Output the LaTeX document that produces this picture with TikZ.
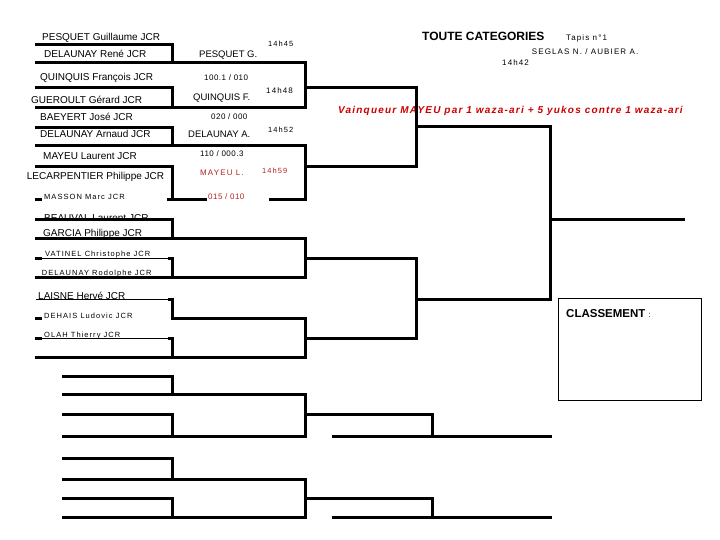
\documentclass[tikz,border=0pt]{standalone}
\usepackage{fontspec}
\setmainfont{Liberation Sans}
\newfontfamily\trackFont[LetterSpace=14]{Liberation Sans}
\newfontfamily\scoreFont[LetterSpace=6]{Liberation Sans}
\newfontfamily\resultFont[LetterSpace=12]{Liberation Sans}

\begin{document}
\begin{tikzpicture}[x=1pt, y=-1pt,
    bar/.style={line width=3pt, line cap=rect},
    thinbar/.style={line width=1pt},
    entrant/.style={anchor=base west, inner sep=0pt, font=\fontsize{10}{12}\selectfont},
    smallentrant/.style={anchor=base west, inner sep=0pt, font=\trackFont\fontsize{7.5}{9}\selectfont},
    winner/.style={anchor=base west, inner sep=0pt, font=\fontsize{9.5}{11}\selectfont},
    score/.style={anchor=base west, inner sep=0pt, font=\scoreFont\fontsize{8}{10}\selectfont},
    clock/.style={anchor=base west, inner sep=0pt, font=\trackFont\fontsize{7.5}{9}\selectfont}]
    \def\xStart{36}
    \def\xLower{63}
    \def\xRoundA{172}
    \def\xRoundB{305}
    \def\xRoundC{416}
    \def\xRoundD{550}
    \def\xFinal{683}
    \def\xRepA{432}
    \def\xRepB{333}

    \definecolor{winColour}{HTML}{B22222}
    \definecolor{resultColour}{HTML}{CC0000}

    \useasboundingbox (0,0) rectangle (720,540);

    % Header
    \node[anchor=base west, inner sep=0pt, font=\bfseries\fontsize{12}{14}\selectfont] (title) at (422,40.7) {TOUTE CATEGORIES};
    \node[clock, font=\trackFont\fontsize{8}{10}\selectfont] (tapis) at (566,40.7) {Tapis n°1};
    \node[clock, font=\trackFont\fontsize{8}{10}\selectfont] (referees) at (531.7,55) {SEGLAS N. / AUBIER A.};
    \node[clock, font=\trackFont\fontsize{8}{10}\selectfont] (startTime) at (502,65.7) {14h42};

    % Entrants
    \foreach \px/\py/\txt [count=\i] in {42/41/PESQUET Guillaume JCR, 44/58/DELAUNAY René JCR,
        40/81/QUINQUIS François JCR, 31/103.3/GUEROULT Gérard JCR, 40/120.7/BAEYERT José JCR,
        40/137.3/DELAUNAY Arnaud JCR, 43/160/MAYEU Laurent JCR, 26.7/180/LECARPENTIER Philippe JCR,
        44/222/BEAUVAL Laurent JCR, 43/236.7/GARCIA Philippe JCR, 38/299.5/LAISNE Hervé JCR}
        \node[entrant] (entrant\i) at (\px,\py) {\txt};
    \foreach \px/\py/\txt [count=\i] in {44/199.3/MASSON Marc JCR, 45/256.5/VATINEL Christophe JCR,
        41.7/275.5/DELAUNAY Rodolphe JCR, 44/318/DEHAIS Ludovic JCR, 44/337/OLAH Thierry JCR}
        \node[smallentrant] (late\i) at (\px,\py) {\txt};

    % Second round winners, scores and times
    \node[winner] (winnerA) at (199,58) {PESQUET G.};
    \node[winner] (winnerB) at (193,100.7) {QUINQUIS F.};
    \node[winner] (winnerC) at (188,137.3) {DELAUNAY A.};
    \node[clock, text=winColour, font=\trackFont\fontsize{8}{10}\selectfont] (winnerD) at (200,176) {MAYEU L.};
    \node[score] (scoreA) at (204,81) {100.1 / 010};
    \node[score] (scoreB) at (211,120) {020 / 000};
    \node[score] (scoreC) at (200,156.7) {110 / 000.3};
    \node[score, text=winColour] (scoreD) at (208,199.3) {015 / 010};
    \node[clock] (timeA) at (268,46.7) {14h45};
    \node[clock, font=\trackFont\fontsize{8}{10}\selectfont] (timeB) at (266,94) {14h48};
    \node[clock] (timeC) at (268,133) {14h52};
    \node[clock, text=winColour] (timeD) at (262,174) {14h59};

    % Result
    \node[anchor=base west, inner sep=0pt, text=resultColour, font=\resultFont\bfseries\itshape\fontsize{10}{12}\selectfont] (result) at (338,113.7) {Vainqueur MAYEU par 1 waza-ari + 5 yukos contre 1 waza-ari};

    % First round
    \foreach \ya/\yb in {45/63, 88/108, 128/146, 220/238}{
        \draw[bar] (\xStart,\ya) -- (\xRoundA,\ya) -- (\xRoundA,\yb);
        \draw[bar] (\xStart,\yb) -- (\xRoundB,\yb);
    }
    \draw[bar] (\xStart,167) -- (\xRoundA,167) -- (\xRoundA,200);
    \draw[bar] (168,200) -- (205,200);
    \draw[bar] (270,200) -- (\xRoundB,200);
    \foreach \ya/\yb in {258/277, 299/318, 338/357}{
        \draw[thinbar] (\xStart,\ya) -- (\xRoundA,\ya);
        \draw[bar] (\xRoundA-3,\ya) -- (\xRoundA,\ya) -- (\xRoundA,\yb);
    }
    \foreach \y in {277, 357}
        \draw[bar] (\xStart,\y) -- (\xRoundB,\y);
    \draw[bar] (\xRoundA,318) -- (\xRoundB,318);
    \foreach \y in {200, 258, 318, 338}
        \draw[bar] (\xStart,\y) -- (\xStart+4,\y);

    % Second and third rounds
    \foreach \ya/\ym/\yb in {63/88/108, 146/167/200, 238/258/277, 318/338/357}{
        \draw[bar] (\xRoundB,\ya) -- (\xRoundB,\yb);
        \draw[bar] (\xRoundB,\ym) -- (\xRoundC,\ym);
    }
    \foreach \ya/\ym/\yb in {88/127/167, 258/299/338}{
        \draw[bar] (\xRoundC,\ya) -- (\xRoundC,\yb);
        \draw[bar] (\xRoundC,\ym) -- (\xRoundD,\ym);
    }

    % Final
    \draw[bar] (\xRoundD,127) -- (\xRoundD,299);
    \draw[bar] (\xRoundD,220) -- (\xFinal,220);

    % Repechage
    \foreach \ya/\yb/\yc/\yd in {376/394/414/436, 458/479/498/517}{
        \draw[bar] (\xLower,\ya) -- (\xRoundA,\ya) -- (\xRoundA,\yb);
        \draw[bar] (\xLower,\yc) -- (\xRoundA,\yc) -- (\xRoundA,\yd);
        \draw[bar] (\xLower,\yb) -- (\xRoundB,\yb) -- (\xRoundB,\yd) -- (\xLower,\yd);
        \draw[bar] (\xRoundB,\yc) -- (\xRepA,\yc) -- (\xRepA,\yd);
        \draw[bar] (\xRepB,\yd) -- (\xRoundD,\yd);
    }

    % Classement
    \node[draw, line width=1pt, anchor=north west, minimum width=143pt, minimum height=102pt, inner sep=0pt] (classement) at (558,298) {};
    \node[anchor=base west, inner sep=0pt, font=\bfseries\fontsize{11.5}{13}\selectfont] (classementLabel) at (566,317.7) {CLASSEMENT {\mdseries\fontsize{8}{10}\selectfont :}};

\end{tikzpicture}
\end{document}
